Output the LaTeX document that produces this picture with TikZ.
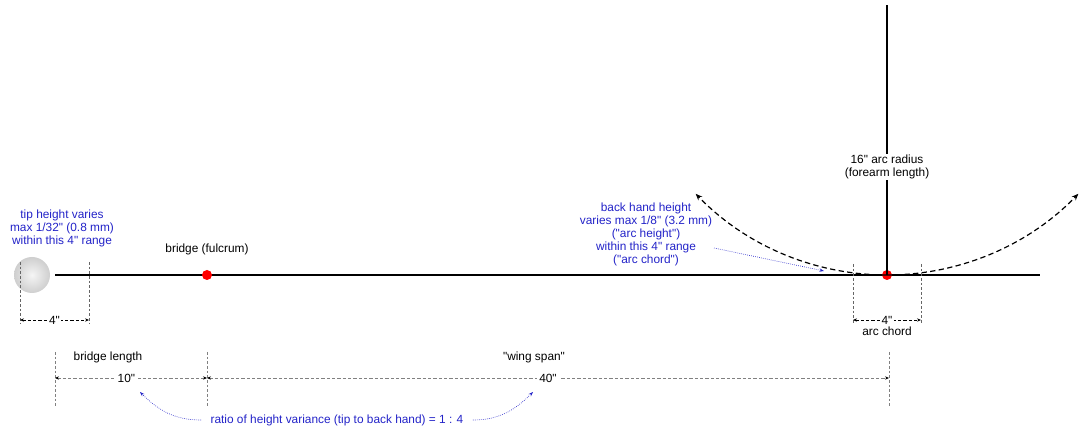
\documentclass[tikz,border=0pt]{standalone}
\usepackage{fontspec}
\setmainfont{Liberation Sans}[Ligatures=TeXOff]
\usetikzlibrary{positioning,arrows.meta}
\definecolor{noteblue}{RGB}{35,35,200}

\begin{document}
\begin{tikzpicture}[x=0.75pt,y=0.75pt]
      \tikzstyle{pivot}=[circle, fill=red, inner sep=0pt, minimum size=7.5pt]
      \tikzstyle{lbl}=[font=\fontsize{8.9}{9.75}\selectfont, align=center, inner sep=1pt, text=black]
      \tikzstyle{note}=[lbl, text=noteblue]
      \tikzstyle{guide}=[dashed, gray!80!black, line width=0.4pt, dash pattern=on 2pt off 1.5pt]
      \tikzstyle{dim}=[dashed, line width=0.5pt, dash pattern=on 2.5pt off 1.5pt, {Stealth[length=3pt,width=2.5pt]}-{Stealth[length=3pt,width=2.5pt]}]
      \tikzstyle{span}=[dim, gray, {Stealth[length=3pt,width=2.5pt,color=black]}-{Stealth[length=3pt,width=2.5pt,color=black]}]
      \tikzstyle{swing}=[line width=0.9pt, dash pattern=on 4pt off 2.5pt, -{Stealth[length=5pt,width=4pt]}]
      \tikzstyle{hint}=[noteblue, densely dotted, line width=0.5pt, -{Stealth[length=3.5pt,width=2.5pt]}]

      \useasboundingbox (0,0) rectangle (1080,445);

      % rod
      \node[circle, minimum size=27pt, inner sep=0pt, inner color=gray!8, outer color=gray!38, shade] (tip) at (32,170) {};
      \coordinate (rodL) at (55,170);
      \coordinate (rodR) at (1040,170);
      \draw[line width=1pt] (rodL) -- (rodR);

      \node[pivot] (bridge) at (207,170) {};
      \node[lbl, above=10pt of bridge] (bridgelbl) {bridge (fulcrum)};

      \node[pivot] (hand) at (887,170) {};
      \coordinate (top) at (887,440);
      \draw[line width=0.8pt] (hand.center) -- (top);
      \node[lbl, fill=white] (radius) at (887,278) {16" arc radius\\(forearm length)};

      % arc of the back hand
      \draw[swing] (hand.center) arc[start angle=270, end angle=224, radius=266];
      \draw[swing] (hand.center) arc[start angle=270, end angle=316, radius=266];

      % tip range
      \node[note] (tipnote) at (62,217) {tip height varies\\max 1/32" (0.8 mm)\\within this 4" range};
      \coordinate (t1) at (20,183); \coordinate (t1b) at (20,122);
      \coordinate (t2) at (89,183); \coordinate (t2b) at (89,122);
      \draw[guide] (t1) -- (t1b);
      \draw[guide] (t2) -- (t2b);
      \coordinate (tipL) at (20,125); \coordinate (tipR) at (89,125);
      \draw[dim] (tipL) -- (tipR) node[lbl, midway, fill=white] {4"};

      % arc chord
      \node[note] (handnote) at (646,211) {back hand height\\varies max 1/8" (3.2 mm)\\("arc height")\\within this 4" range\\("arc chord")};
      \coordinate (hintS) at (714,197); \coordinate (hintE) at (824,174);
      \draw[hint] (hintS) -- (hintE);
      \coordinate (c1) at (853,181); \coordinate (c1b) at (853,122);
      \coordinate (c2) at (921,181); \coordinate (c2b) at (921,122);
      \draw[guide] (c1) -- (c1b);
      \draw[guide] (c2) -- (c2b);
      \coordinate (chordL) at (853,125); \coordinate (chordR) at (921,125);
      \draw[dim] (chordL) -- (chordR) node[lbl, midway, fill=white] (chord) {4"};
      \node[lbl, below=0pt of chord] {arc chord};

      % lengths
      \coordinate (g1) at (55,93);  \coordinate (g1b) at (55,37);
      \coordinate (g2) at (207,93); \coordinate (g2b) at (207,37);
      \coordinate (g3) at (889,93); \coordinate (g3b) at (889,37);
      \draw[guide, gray] (g1) -- (g1b);
      \draw[guide, gray] (g2) -- (g2b);
      \draw[guide, gray] (g3) -- (g3b);
      \coordinate (s1) at (55,67); \coordinate (s2) at (207,67); \coordinate (s3) at (889,67);
      \draw[span] (s1) -- (s2) node[lbl, pos=0.47, fill=white, inner sep=2pt] (ten) {10"};
      \draw[span] (s2) -- (s3) node[lbl, midway, fill=white, inner sep=2pt] (forty) {40"};
      \node[lbl] (blen) at (108,88) {bridge length};
      \node[lbl] (wing) at (534,88) {"wing span"};

      \node[note] (ratio) at (337,25) {ratio of height variance (tip to back hand) = 1 : 4};
      \coordinate (r1) at (140,53); \coordinate (r2) at (533,53);
      \draw[hint] ([xshift=-6pt]ratio.west) to[out=180, in=-45] (r1);
      \draw[hint] ([xshift=6pt]ratio.east) to[out=0, in=-135] (r2);
    \end{tikzpicture}
\end{document}
